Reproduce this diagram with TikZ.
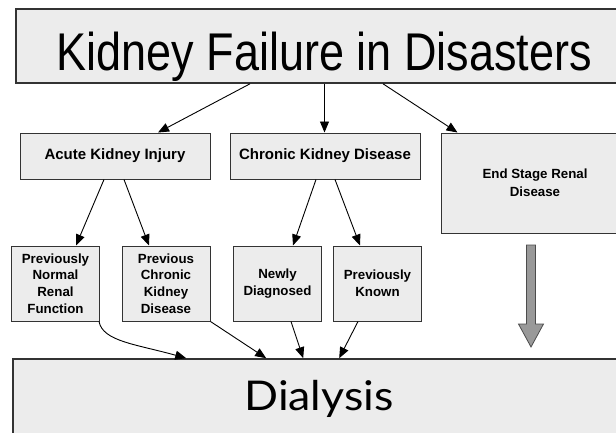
\documentclass[tikz,border=0pt]{standalone}
\usepackage{fontspec}
\usepackage{graphicx}
\setmainfont{Liberation Sans}
\newfontfamily\dialysisfont{Lato}
\usetikzlibrary{arrows.meta}

\begin{document}
\begin{tikzpicture}[x=1pt, y=-1pt,
    box/.style={draw=black!80, line width=1pt, fill=gray!15},
    subbox/.style={box, font=\fontsize{15}{18}\selectfont\bfseries, minimum width=190, minimum height=46},
    leafbox/.style={box, font=\fontsize{13.3}{16.7}\selectfont\bfseries, align=center, minimum width=88, minimum height=75},
    arr/.style={-{Triangle[length=11pt,width=9pt]}, line width=0.9pt}]

                \useasboundingbox (0,0) rectangle (616,432);
                \clip (0,0) rectangle (616,432);

                % Title Box
                \node[box, line width=1.6pt, minimum width=617, minimum height=74] (kfd) at (324.5,46) {};
                \node[anchor=base, font=\fontsize{45}{50}\selectfont] (kfdlabel) at (324.5,70) {\scalebox{1}[1.18]{Kidney Failure in Disasters}};

                % Middle Row
                \node[subbox] (aki) at (115,156) {Acute Kidney Injury};
                \node[subbox] (ckd) at (325,156) {Chronic Kidney Disease};
                \node[box, font=\fontsize{13.3}{17.7}\selectfont\bfseries, align=center, minimum width=188, minimum height=100] (esrd) at (535,183) {End Stage Renal\\Disease};

                % Lower Row
                \node[leafbox] (pnrf) at (55.5,283.5) {Previously\\Normal\\Renal\\Function};
                \node[leafbox] (pckd) at (166,283.5) {Previous\\Chronic\\Kidney\\Disease};
                \node[leafbox] (nd) at (277.5,283.5) {Newly\\Diagnosed};
                \node[leafbox] (pk) at (377.5,283.5) {Previously\\Known};

                % Dialysis Box
                \node[box, line width=1.6pt, minimum width=612, minimum height=90] (dia) at (319,404) {};
                \node[anchor=base, font=\dialysisfont\fontsize{41}{45}\selectfont] (dialabel) at (319,410) {\scalebox{1.09}[1]{Dialysis}};

                % Arrows from title
                \draw[arr] ([xshift=-74.5]kfd.south) -- ([xshift=43]aki.north);
                \draw[arr] (kfd.south) -- (kfd.south |- ckd.north);
                \draw[arr] ([xshift=58.5]kfd.south) -- ([xshift=17]esrd.north west);

                % Arrows to lower row
                \draw[arr] ([xshift=-11]aki.south) -- ([xshift=20.5]pnrf.north);
                \draw[arr] ([xshift=9]aki.south) -- ([xshift=-17]pckd.north);
                \draw[arr] ([xshift=-9]ckd.south) -- ([xshift=15.5]nd.north);
                \draw[arr] ([xshift=10]ckd.south) -- ([xshift=-17.5]pk.north);

                % Arrows to dialysis
                \draw[arr] ([xshift=-1]pnrf.south east) .. controls +(4,20) and +(-50,-14) .. ([xshift=174]dia.north west);
                \draw[arr] (pckd.south east) -- ([xshift=254]dia.north west);
                \draw[arr] ([xshift=13.5]nd.south) -- ([xshift=291]dia.north west);
                \draw[arr] ([xshift=-19.5]pk.south) -- ([xshift=327]dia.north west);

                % ESRD block arrow
                \draw[draw=black!70, fill=black!40, line width=0.8pt] (526.5,245) -- (535.5,245) -- (535.5,324) -- (543.5,324) -- (531,347) -- (518.5,324) -- (526.5,324) -- cycle;
\end{tikzpicture}
\end{document}
